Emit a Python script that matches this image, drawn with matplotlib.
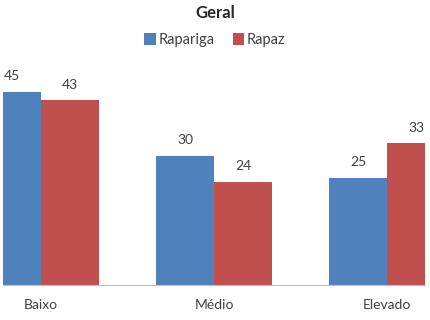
import matplotlib
matplotlib.use("Agg")
import matplotlib.pyplot as plt
import numpy as np

categories = ["Baixo", "Médio", "Elevado"]
series_names = ["Rapariga", "Rapaz"]
rapariga = [45, 30, 25]
rapaz = [43, 24, 33]

plt.rcParams['font.family'] = ['Lato', 'DejaVu Sans']


def main():
    fig = plt.figure(figsize=(4.3, 3.2), dpi=100)
    # axes spans the plot area of the picture, bars at the edges are clipped
    ax = fig.add_axes([3 / 430, 35 / 320, 422 / 430, 225 / 320])

    x = np.arange(len(categories))
    w = 0.335
    colors = ["#4F81BD", "#C0504D"]
    bars1 = ax.bar(x - w / 2, rapariga, w, color=colors[0], label=series_names[0])
    bars2 = ax.bar(x + w / 2, rapaz, w, color=colors[1], label=series_names[1])

    for bars in (bars1, bars2):
        for b in bars:
            ax.annotate(str(int(b.get_height())),
                        (b.get_x() + b.get_width() / 2, b.get_height()),
                        xytext=(0, 7), textcoords="offset points",
                        ha="center", va="bottom", fontsize=10, color="#404040",
                        annotation_clip=False)

    ax.set_xlim(-0.2197, 2.2197)
    ax.set_ylim(0, 52.4)
    for s in ("top", "right", "left"):
        ax.spines[s].set_visible(False)
    ax.spines["bottom"].set_color("#BFBFBF")
    ax.set_yticks([])
    ax.set_xticks(x)
    ax.set_xticklabels(categories, fontsize=10, color="#404040")
    ax.tick_params(axis="x", length=0, pad=10)

    fig.text(0.5, 1 - 13 / 320, "Geral", ha="center", va="center",
             fontsize=12, fontweight="bold", color="#262626")
    fig.legend(loc="center", bbox_to_anchor=(0.5, 1 - 40 / 320), ncol=2,
               frameon=False, fontsize=10.5, handlelength=0.8, handleheight=0.8,
               handletextpad=0.2, columnspacing=1.2, labelcolor="#404040")

    fig.savefig("out.png", dpi=100)


if __name__ == "__main__":
    main()
